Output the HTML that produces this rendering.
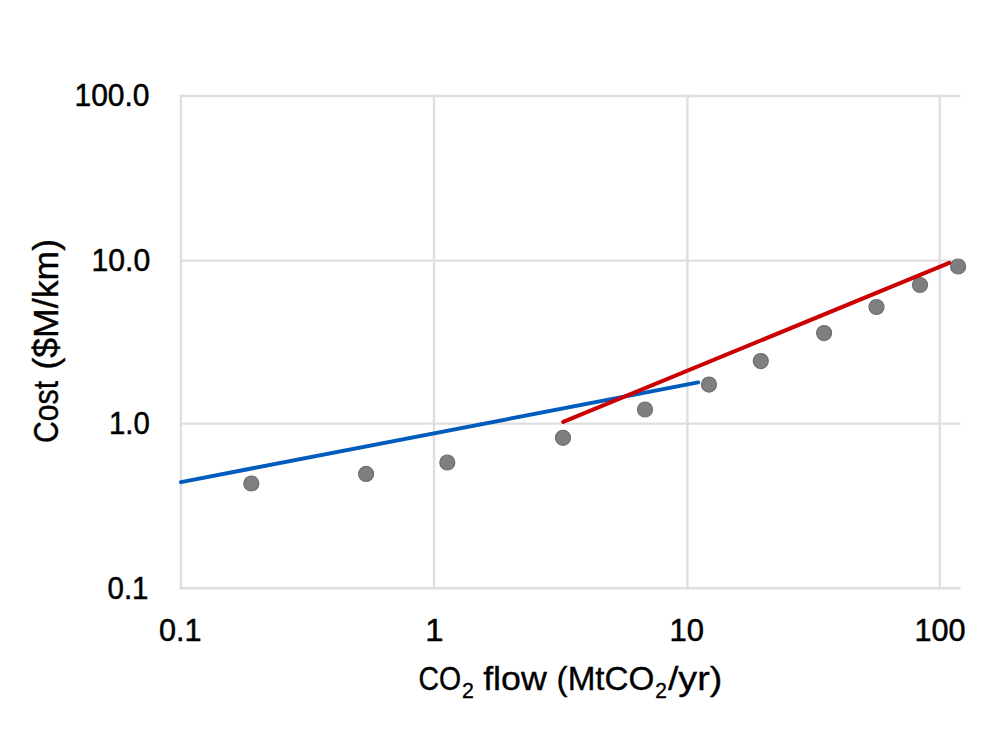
<!DOCTYPE html>
<html><head><meta charset="utf-8">
<style>
html,body{margin:0;padding:0;background:#fff;}
body{width:1000px;height:750px;overflow:hidden;position:relative;}
svg{position:absolute;left:0;top:0;}
text{font-family:"Liberation Sans",sans-serif;fill:#000;}
</style></head>
<body>
<svg width="1000" height="750" viewBox="0 0 1000 750">
<rect width="1000" height="750" fill="#fff"/>
<g>

<g stroke="#dfdfdf" stroke-width="2.4" fill="none">
<line x1="179.7" y1="96.0" x2="960.5" y2="96.0"/>
<line x1="179.7" y1="260.6" x2="960.5" y2="260.6"/>
<line x1="179.7" y1="423.6" x2="960.5" y2="423.6"/>
<line x1="179.7" y1="588.3" x2="960.5" y2="588.3"/>
<line x1="180.9" y1="94.8" x2="180.9" y2="589.5"/>
<line x1="434.0" y1="94.8" x2="434.0" y2="589.5"/>
<line x1="687.4" y1="94.8" x2="687.4" y2="589.5"/>
<line x1="939.7" y1="94.8" x2="939.7" y2="589.5"/>
</g>
<g fill="#7f7f7f" stroke="#6e6e6e" stroke-width="1.2">
<circle cx="251.3" cy="483.5" r="7.5"/>
<circle cx="366.1" cy="473.9" r="7.5"/>
<circle cx="447.3" cy="462.5" r="7.5"/>
<circle cx="563" cy="437.8" r="7.5"/>
<circle cx="645" cy="409.5" r="7.5"/>
<circle cx="709" cy="384.6" r="7.5"/>
<circle cx="760.8" cy="361.1" r="7.5"/>
<circle cx="824.1" cy="333.1" r="7.5"/>
<circle cx="876.5" cy="307" r="7.5"/>
<circle cx="920" cy="285" r="7.5"/>
<circle cx="958.1" cy="266.5" r="7.5"/>
</g>
<line x1="181" y1="482.1" x2="698.2" y2="382.4" stroke="#005cbc" stroke-width="4" stroke-linecap="round"/>
<line x1="563.2" y1="421.9" x2="949.3" y2="262.8" stroke="#cc0000" stroke-width="4" stroke-linecap="round"/>
<g stroke="#000" stroke-width="0.5">
<text x="74.5" y="105.6" font-size="31" stroke-width="0.5" textLength="75.0" lengthAdjust="spacingAndGlyphs">100.0</text>
<text x="91.5" y="270.6" font-size="31" stroke-width="0.5" textLength="58.67" lengthAdjust="spacingAndGlyphs">10.0</text>
<text x="109.0" y="433.6" font-size="31" stroke-width="0.5" textLength="40.76" lengthAdjust="spacingAndGlyphs">1.0</text>
<text x="107.5" y="598.6" font-size="31" stroke-width="0.5" textLength="40.96" lengthAdjust="spacingAndGlyphs">0.1</text>
<text x="159.0" y="640.6" font-size="31" stroke-width="0.5" textLength="42.55" lengthAdjust="spacingAndGlyphs">0.1</text>
<text x="425.2" y="640.6" font-size="31" stroke-width="0.5" textLength="18.29" lengthAdjust="spacingAndGlyphs">1</text>
<text x="669.5" y="640.6" font-size="31" stroke-width="0.5" textLength="34.44" lengthAdjust="spacingAndGlyphs">10</text>
<text x="914.5" y="640.6" font-size="31" stroke-width="0.5" textLength="51.06" lengthAdjust="spacingAndGlyphs">100</text>
<text x="418.4" y="690" font-size="34" stroke-width="0.35" textLength="42.61" lengthAdjust="spacingAndGlyphs">CO</text>
<text x="462.0" y="698.4" font-size="22.3" stroke-width="0.35" textLength="11.9" lengthAdjust="spacingAndGlyphs">2</text>
<text x="483.2" y="690" font-size="34" stroke-width="0.35" textLength="63.6" lengthAdjust="spacingAndGlyphs">flow</text>
<text x="556.6" y="690" font-size="34" stroke-width="0.35" textLength="97.86" lengthAdjust="spacingAndGlyphs">(MtCO</text>
<text x="655.2" y="698.4" font-size="22.3" stroke-width="0.35" textLength="11.67" lengthAdjust="spacingAndGlyphs">2</text>
<text x="667.9" y="690" font-size="34" stroke-width="0.35" textLength="54.38" lengthAdjust="spacingAndGlyphs">/yr)</text>
<g transform="translate(58.2,750) rotate(-90)">
<text x="307.0" y="0" font-size="34.5" stroke-width="0.35" textLength="62.04" lengthAdjust="spacingAndGlyphs">Cost</text>
<text x="380.4" y="0" font-size="34.5" stroke-width="0.35" textLength="130.82" lengthAdjust="spacingAndGlyphs">(&#36;M/km)</text>
</g>
</g>
</g></svg>
</body></html>
